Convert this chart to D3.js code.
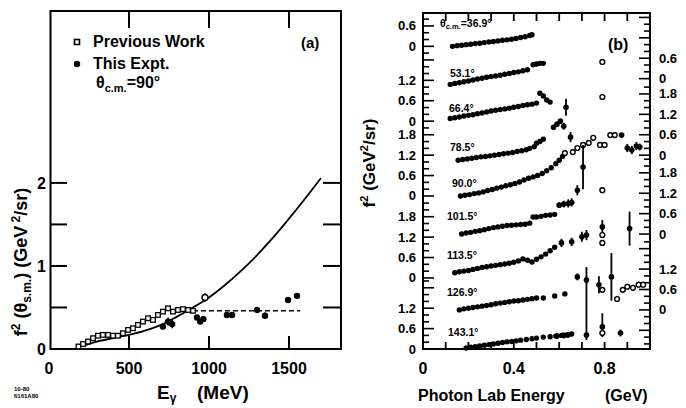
<!DOCTYPE html>
<html>
<head>
<meta charset="utf-8">
<script src="https://cdn.jsdelivr.net/npm/d3@7"></script>
<style>
  body { margin: 0; background: #fff; }
  text { font-family: "Liberation Sans", Arial, sans-serif; font-weight: bold; fill: #000; }
</style>
</head>
<body>
<svg id="chart" width="686" height="408"></svg>
<script>
// ---------- panel (a): f^2 at 90 deg vs photon energy (MeV)
const aXTicks = [0, 500, 1000, 1500];
const aYTicks = [0, 1, 2];
const aYMinor = [0.5, 1.5];
const prevWork = [[184,0.03],[213,0.06],[244,0.09],[275,0.13],[306,0.16],[337,0.17],[369,0.17],[400,0.16],[431,0.16],[462,0.19],[494,0.23],[525,0.25],[556,0.29],[587,0.33],[619,0.37],[650,0.35],[681,0.41],[712,0.45],[744,0.49],[775,0.45],[806,0.47],[837,0.48],[869,0.47],[900,0.46]];
const prevWorkErr = [[975,0.62,0.05]];
const thisExpt = [[712,0.27,0.03],[744,0.33,0.05],[770,0.30,0.05],[925,0.38,0.03],[945,0.33,0.03],[965,0.36,0.03],[1112,0.41,0.03],[1144,0.41,0.03],[1300,0.47,0.03],[1350,0.40,0.04],[1494,0.59,0.03],[1550,0.64,0.03]];
const fitCurve = [[200,0.03],[300,0.09],[400,0.13],[500,0.17],[600,0.22],[700,0.29],[800,0.39],[900,0.50],[1000,0.62],[1100,0.77],[1200,0.94],[1300,1.13],[1400,1.34],[1500,1.57],[1600,1.81],[1700,2.06]];
const plateau = [[900,0.46],[1570,0.46]];

// ---------- panel (b): f^2 vs photon lab energy (GeV), stacked by angle
const bXTicks = [0, 0.4, 0.8];
const bAngles = ["36.9°","53.1°","66.4°","78.5°","90.0°","101.5°","113.5°","126.9°","143.1°"];
const bOffsets = [8.9, 7.78, 6.7, 5.55, 4.5, 3.38, 2.09, 1.15, 0];
const leftOffsets = [0, 2.09, 4.5, 6.7, 8.9];
const leftLabels = [[0,0.6,1.2],[0,0.6,1.2,1.8],[0,0.6,1.2,1.8],[0,0.6,1.2],[0,0.6]];
const rightOffsets = [1.15, 3.38, 5.7, 7.95];
const rightLabels = [[0,0.6,1.2],[0,0.6,1.2,1.8],[0,0.6,1.2,1.8],[0,0.6]];

const band369 = [[0.13,0.0],[0.15,0.02],[0.17,0.03],[0.19,0.05],[0.21,0.06],[0.23,0.08],[0.25,0.09],[0.27,0.11],[0.29,0.13],[0.31,0.14],[0.33,0.16],[0.35,0.18],[0.37,0.19],[0.39,0.21],[0.41,0.23],[0.43,0.26],[0.45,0.28],[0.47,0.32],[0.48,0.34]];
const band531 = [[0.12,0.0],[0.14,0.03],[0.16,0.05],[0.18,0.08],[0.20,0.10],[0.22,0.13],[0.24,0.16],[0.26,0.18],[0.28,0.21],[0.30,0.23],[0.32,0.25],[0.34,0.27],[0.36,0.30],[0.38,0.32],[0.40,0.35],[0.42,0.37],[0.44,0.40],[0.46,0.43],[0.485,0.58],[0.50,0.60],[0.515,0.62],[0.53,0.62]];
const band664 = [[0.12,0.08],[0.14,0.10],[0.16,0.12],[0.18,0.15],[0.20,0.17],[0.22,0.19],[0.24,0.22],[0.26,0.24],[0.28,0.27],[0.30,0.30],[0.32,0.32],[0.34,0.34],[0.36,0.36],[0.38,0.38],[0.40,0.41],[0.42,0.43],[0.44,0.46],[0.46,0.48],[0.48,0.50],[0.50,0.53],[0.515,0.82],[0.53,0.74],[0.545,0.62],[0.56,0.56]];
const band785 = [[0.155,0.0],[0.175,0.02],[0.195,0.04],[0.215,0.06],[0.235,0.08],[0.255,0.10],[0.275,0.11],[0.295,0.13],[0.315,0.15],[0.335,0.17],[0.355,0.19],[0.375,0.21],[0.395,0.23],[0.415,0.26],[0.435,0.28],[0.455,0.31],[0.47,0.35],[0.49,0.40],[0.50,0.50],[0.515,0.55],[0.53,0.62]];
const band900 = [[0.165,0.0],[0.185,0.02],[0.205,0.04],[0.225,0.07],[0.245,0.09],[0.265,0.12],[0.285,0.16],[0.305,0.19],[0.325,0.23],[0.345,0.26],[0.365,0.30],[0.385,0.33],[0.405,0.37],[0.425,0.41],[0.445,0.47],[0.465,0.52],[0.485,0.56],[0.505,0.60],[0.525,0.66],[0.545,0.74],[0.565,0.83],[0.585,0.95],[0.60,1.05],[0.615,1.16]];
const band1015 = [[0.17,0.0],[0.19,0.03],[0.21,0.05],[0.23,0.08],[0.25,0.10],[0.27,0.13],[0.29,0.16],[0.31,0.19],[0.33,0.21],[0.35,0.23],[0.37,0.25],[0.39,0.26],[0.41,0.27],[0.43,0.28],[0.45,0.29],[0.47,0.32],[0.485,0.50],[0.50,0.50],[0.52,0.52],[0.54,0.55],[0.56,0.56],[0.58,0.58]];
const band1135 = [[0.14,0.15],[0.16,0.18],[0.18,0.20],[0.20,0.22],[0.22,0.25],[0.24,0.28],[0.26,0.31],[0.28,0.33],[0.30,0.35],[0.32,0.37],[0.34,0.39],[0.36,0.41],[0.38,0.43],[0.40,0.46],[0.42,0.50],[0.44,0.56],[0.46,0.52],[0.48,0.47],[0.50,0.55],[0.52,0.62],[0.54,0.70],[0.56,0.80],[0.58,0.90]];
const band1269 = [[0.16,0.0],[0.18,0.03],[0.20,0.05],[0.22,0.07],[0.24,0.09],[0.26,0.11],[0.28,0.13],[0.30,0.15],[0.32,0.18],[0.34,0.20],[0.36,0.22],[0.38,0.24],[0.40,0.26],[0.42,0.27],[0.44,0.29],[0.46,0.31],[0.48,0.33],[0.50,0.35],[0.53,0.35],[0.58,0.41],[0.625,0.47]];
const band1431 = [[0.19,0.03],[0.21,0.05],[0.23,0.07],[0.25,0.09],[0.27,0.11],[0.29,0.13],[0.31,0.15],[0.33,0.17],[0.35,0.19],[0.37,0.21],[0.39,0.22],[0.41,0.24],[0.43,0.26],[0.455,0.28],[0.48,0.30],[0.50,0.32],[0.53,0.35],[0.56,0.36],[0.585,0.38],[0.61,0.40],[0.635,0.41],[0.655,0.44]];

// extra points: [E, f2, errLow, errHigh, open]
const extra369 = [];
const extra531 = [[0.79,0.66,0,0,1]];
const extra664 = [[0.63,0.41,0.25,0.25,0],[0.79,0.71,0,0,1]];
const extra785 = [[0.575,0.97,0.06,0.06,0],[0.59,1.06,0.08,0.08,0],[0.605,1.15,0.06,0.06,0],[0.62,1.0,0.1,0.1,0],[0.65,0.68,0.15,0.15,0]];
const extra900 = [[0.625,1.26,0,0,1],[0.66,1.29,0,0,1],[0.68,1.41,0,0,1],[0.705,1.50,0,0,1],[0.73,1.56,0,0,1],[0.75,1.71,0,0,1],[0.78,1.50,0,0,1],[0.80,1.50,0,0,1],[0.825,1.79,0,0,1],[0.845,1.79,0,0,1],[0.875,1.79,0,0,0],[0.90,1.41,0.12,0.12,0],[0.92,1.35,0.12,0.12,0],[0.94,1.47,0.12,0.12,0],[0.955,1.44,0.1,0.1,0]];
const extra1015 = [[0.60,0.85,0.08,0.08,0],[0.62,0.88,0.1,0.1,0],[0.64,0.90,0.12,0.12,0],[0.655,0.93,0.12,0.12,0],[0.68,1.29,0.15,0.15,0],[0.705,1.97,0.65,0.65,0],[0.79,1.29,0,0,1]];
const extra1135 = [[0.61,1.03,0.12,0.12,0],[0.655,1.06,0.12,0.12,0],[0.70,1.21,0.15,0.15,0],[0.72,1.26,0.15,0.15,0],[0.79,1.50,0.2,0.2,0],[0.79,1.26,0,0,1],[0.79,1.03,0,0,1],[0.91,1.45,0.5,0.5,0]];
const extra1269 = [[0.68,0.97,0.1,0.1,0],[0.72,0.88,0.1,0.1,0],[0.775,0.74,0.25,0.25,0],[0.79,0.59,0,0,1],[0.83,0.97,0.7,0.7,0],[0.855,0.32,0,0,1],[0.88,0.59,0,0,1],[0.90,0.68,0,0,1],[0.925,0.65,0,0,1],[0.95,0.74,0,0,1],[0.97,0.74,0,0,1]];
const extra1431 = [[0.59,0.38,0.08,0.08,0],[0.62,0.40,0.08,0.08,0],[0.64,0.42,0.08,0.08,0],[0.72,0.41,0.15,2.0,0],[0.79,0.65,0.3,0.4,0],[0.79,0.47,0,0,1],[0.87,0.47,0.1,0.1,0]];

const bBands = [band369, band531, band664, band785, band900, band1015, band1135, band1269, band1431];
const bExtras = [extra369, extra531, extra664, extra785, extra900, extra1015, extra1135, extra1269, extra1431];
const bLabelPos = [[440,27],[450,77],[449,112],[450,151],[452,187],[447,220],[447,259],[447,296],[448,336]];

const svg = d3.select("#chart");

// ================= panel (a)
const ax = d3.scaleLinear().domain([0, 1825]).range([49, 341]);
const ay = d3.scaleLinear().domain([0, 4.07]).range([349, 11]);
const ga = svg.append("g");

ga.append("rect").attr("x", 50.5).attr("y", 11).attr("width", 290.5).attr("height", 338)
  .attr("fill", "none").attr("stroke", "#000").attr("stroke-width", 2);

// inward ticks
aXTicks.slice(1).forEach(t => {
  ga.append("line").attr("x1", ax(t)).attr("x2", ax(t)).attr("y1", 349).attr("y2", 336).attr("stroke", "#000").attr("stroke-width", 2);
  ga.append("line").attr("x1", ax(t)).attr("x2", ax(t)).attr("y1", 11).attr("y2", 28).attr("stroke", "#000").attr("stroke-width", 2);
});
aYTicks.slice(1).concat(aYMinor).forEach(t => {
  ga.append("line").attr("x1", 50).attr("x2", 67).attr("y1", ay(t)).attr("y2", ay(t)).attr("stroke", "#000").attr("stroke-width", 2);
  ga.append("line").attr("x1", 341).attr("x2", 323).attr("y1", ay(t)).attr("y2", ay(t)).attr("stroke", "#000").attr("stroke-width", 2);
});

ga.selectAll(".axl").data(aXTicks).enter().append("text")
  .attr("x", d => ax(d)).attr("y", 374).attr("text-anchor", "middle")
  .attr("font-size", 16).text(d => d);
ga.selectAll(".ayl").data(aYTicks).enter().append("text")
  .attr("x", 46).attr("y", d => ay(d) + 6).attr("text-anchor", "end")
  .attr("font-size", 16).text(d => d);

// curves
const line = d3.line().x(d => ax(d[0])).y(d => ay(d[1])).curve(d3.curveCatmullRom);
ga.append("path").datum(fitCurve).attr("d", line).attr("fill", "none").attr("stroke", "#000").attr("stroke-width", 1.8);
ga.append("path").datum(plateau).attr("d", d3.line().x(d => ax(d[0])).y(d => ay(d[1])))
  .attr("fill", "none").attr("stroke", "#000").attr("stroke-width", 1.5).attr("stroke-dasharray", "5,3");

// previous work: open squares
ga.selectAll(".pw").data(prevWork).enter().append("rect")
  .attr("x", d => ax(d[0]) - 2.3).attr("y", d => ay(d[1]) - 2.3).attr("width", 4.6).attr("height", 4.6)
  .attr("fill", "#fff").attr("stroke", "#000").attr("stroke-width", 1.3);
prevWorkErr.forEach(d => {
  ga.append("line").attr("x1", ax(d[0])).attr("x2", ax(d[0])).attr("y1", ay(d[1] - d[2])).attr("y2", ay(d[1] + d[2])).attr("stroke", "#000").attr("stroke-width", 1.5);
  ga.append("circle").attr("cx", ax(d[0])).attr("cy", ay(d[1])).attr("r", 3).attr("fill", "#fff").attr("stroke", "#000").attr("stroke-width", 1.4);
});
// this experiment: filled circles with bars
thisExpt.forEach(d => {
  ga.append("line").attr("x1", ax(d[0])).attr("x2", ax(d[0])).attr("y1", ay(d[1] - d[2])).attr("y2", ay(d[1] + d[2])).attr("stroke", "#000").attr("stroke-width", 1.5);
  ga.append("circle").attr("cx", ax(d[0])).attr("cy", ay(d[1])).attr("r", 3.2).attr("fill", "#000");
});

// legend
ga.append("rect").attr("x", 74.5).attr("y", 39.5).attr("width", 5).attr("height", 5).attr("fill", "#fff").attr("stroke", "#000").attr("stroke-width", 1.6);
ga.append("text").attr("x", 93).attr("y", 47).attr("font-size", 16).text("Previous Work");
ga.append("circle").attr("cx", 77).attr("cy", 64).attr("r", 3.2).attr("fill", "#000");
ga.append("text").attr("x", 93).attr("y", 69).attr("font-size", 16).text("This Expt.");
const leg3 = ga.append("text").attr("x", 96).attr("y", 88).attr("font-size", 16);
leg3.append("tspan").text("θ");
leg3.append("tspan").attr("font-size", 11).attr("dy", 4).text("c.m.");
leg3.append("tspan").attr("dy", -4).text("=90°");
ga.append("text").attr("x", 301).attr("y", 48).attr("font-size", 15).text("(a)");

// axis titles
const aYT = ga.append("text").attr("transform", "translate(27,262) rotate(-90)").attr("text-anchor", "middle").attr("font-size", 18);
aYT.append("tspan").text("f");
aYT.append("tspan").attr("font-size", 12).attr("dy", -7).text("2");
aYT.append("tspan").attr("dy", 7).text(" (θ");
aYT.append("tspan").attr("font-size", 12).attr("dy", 4).text("s.m.");
aYT.append("tspan").attr("dy", -4).text(")  (GeV");
aYT.append("tspan").attr("font-size", 12).attr("dy", -7).text(" 2");
aYT.append("tspan").attr("dy", 7).text("/sr)");

const aXT = ga.append("text").attr("x", 157).attr("y", 399).attr("font-size", 19);
aXT.append("tspan").text("E");
aXT.append("tspan").attr("font-size", 12).attr("dy", 3).text("γ");
ga.append("text").attr("x", 197).attr("y", 399).attr("font-size", 19).text("(MeV)");
ga.append("text").attr("x", 14).attr("y", 391).attr("font-size", 6).text("10-80");
ga.append("text").attr("x", 14).attr("y", 398).attr("font-size", 6).text("6161A80");

// ================= panel (b)
const bx = d3.scaleLinear().domain([0, 1.0]).range([423, 650]);
const by = d3.scaleLinear().domain([0, 9.88]).range([349, 13]);
const gb = svg.append("g");

gb.append("rect").attr("x", 423).attr("y", 13).attr("width", 227).attr("height", 336)
  .attr("fill", "none").attr("stroke", "#000").attr("stroke-width", 2);

// top/bottom inward ticks every 0.1 GeV
d3.range(1, 10).forEach(i => {
  const x = bx(i / 10);
  gb.append("line").attr("x1", x).attr("x2", x).attr("y1", 13).attr("y2", 21).attr("stroke", "#000").attr("stroke-width", 1.8);
  gb.append("line").attr("x1", x).attr("x2", x).attr("y1", 349).attr("y2", 342).attr("stroke", "#000").attr("stroke-width", 1.8);
});

function sectionTicks(offs, side) {
  const xa = side === "L" ? 423 : 650, dir = side === "L" ? 1 : -1;
  offs.forEach((o, k) => {
    const next = k + 1 < offs.length ? offs[k + 1] : 9.88;
    for (let i = 0; o + i * 0.2 < next - 0.05; i++) {
      const len = i % 3 === 0 ? 11 : 6;
      const y = by(o + i * 0.2);
      gb.append("line").attr("x1", xa).attr("x2", xa + dir * len).attr("y1", y).attr("y2", y).attr("stroke", "#000").attr("stroke-width", 1.6);
    }
    if (k === 0 && o > 0) {
      for (let i = 1; o - i * 0.2 > 0.05; i++) {
        const y = by(o - i * 0.2);
        gb.append("line").attr("x1", xa).attr("x2", xa + dir * (i % 3 === 0 ? 11 : 6)).attr("y1", y).attr("y2", y).attr("stroke", "#000").attr("stroke-width", 1.6);
      }
    }
  });
}
sectionTicks(leftOffsets, "L");
sectionTicks(rightOffsets, "R");

leftOffsets.forEach((o, k) => {
  leftLabels[k].forEach(v => {
    gb.append("text").attr("x", 416).attr("y", by(o + v) + 4.5).attr("text-anchor", "end").attr("font-size", 13).text(v);
  });
});
rightOffsets.forEach((o, k) => {
  rightLabels[k].forEach(v => {
    gb.append("text").attr("x", 659).attr("y", by(o + v) + 4.5).attr("font-size", 13).text(v);
  });
});

gb.selectAll(".bxl").data(bXTicks).enter().append("text")
  .attr("x", d => bx(d)).attr("y", 374).attr("text-anchor", "middle").attr("font-size", 16).text(d => d);

// data
bBands.forEach((band, k) => {
  const off = bOffsets[k];
  gb.selectAll(null).data(band).enter().append("circle")
    .attr("cx", d => bx(d[0])).attr("cy", d => by(off + d[1])).attr("r", 2.7).attr("fill", "#000");
  bExtras[k].forEach(d => {
    if (d[2] || d[3]) {
      gb.append("line").attr("x1", bx(d[0])).attr("x2", bx(d[0]))
        .attr("y1", by(off + d[1] - d[2])).attr("y2", by(off + d[1] + d[3])).attr("stroke", "#000").attr("stroke-width", 1.8);
    }
    gb.append("circle").attr("cx", bx(d[0])).attr("cy", by(off + d[1])).attr("r", d[4] ? 2.4 : 2.8)
      .attr("fill", d[4] ? "#fff" : "#000").attr("stroke", "#000").attr("stroke-width", d[4] ? 1.4 : 0);
  });
  const lp = bLabelPos[k];
  const t = gb.append("text").attr("x", lp[0]).attr("y", lp[1]).attr("font-size", 10.5);
  if (k === 0) {
    t.append("tspan").text("θ");
    t.append("tspan").attr("font-size", 7.5).attr("dy", 2).text("c.m.");
    t.append("tspan").attr("dy", -2).text("=" + bAngles[k]);
  } else {
    t.text(bAngles[k]);
  }
});

gb.append("text").attr("x", 608).attr("y", 50).attr("font-size", 16).text("(b)");

const bYT = gb.append("text").attr("transform", "translate(375,163) rotate(-90)").attr("text-anchor", "middle").attr("font-size", 17);
bYT.append("tspan").text("f");
bYT.append("tspan").attr("font-size", 11).attr("dy", -7).text("2");
bYT.append("tspan").attr("dy", 7).text("   (GeV");
bYT.append("tspan").attr("font-size", 11).attr("dy", -7).text("2");
bYT.append("tspan").attr("dy", 7).text("/sr)");

gb.append("text").attr("x", 418).attr("y", 401).attr("font-size", 16).text("Photon Lab Energy");
gb.append("text").attr("x", 605).attr("y", 401).attr("font-size", 16).text("(GeV)");
</script>
</body>
</html>
